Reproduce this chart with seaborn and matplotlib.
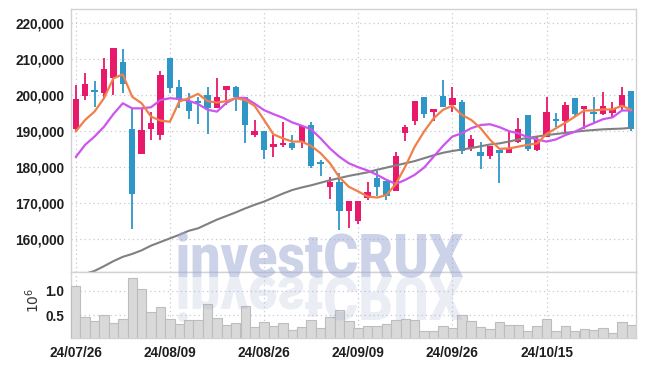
import numpy as np
import pandas as pd
import matplotlib
matplotlib.use("Agg")
import matplotlib.pyplot as plt
import seaborn as sns
from matplotlib.textpath import TextPath
from matplotlib.patches import PathPatch
from matplotlib.font_manager import FontProperties
from matplotlib.transforms import Affine2D, IdentityTransform

# ---------------- data ----------------
dates = ["24/07/26", "24/07/29", "24/07/30", "24/07/31", "24/08/01", "24/08/02", "24/08/05", "24/08/06", "24/08/07", "24/08/08",
         "24/08/09", "24/08/12", "24/08/13", "24/08/14", "24/08/16", "24/08/19", "24/08/20", "24/08/21", "24/08/22", "24/08/23",
         "24/08/26", "24/08/27", "24/08/28", "24/08/29", "24/08/30", "24/09/02", "24/09/03", "24/09/04", "24/09/05", "24/09/06",
         "24/09/09", "24/09/10", "24/09/11", "24/09/12", "24/09/13", "24/09/19", "24/09/20", "24/09/23", "24/09/24", "24/09/25",
         "24/09/26", "24/09/27", "24/09/30", "24/10/02", "24/10/04", "24/10/07", "24/10/08", "24/10/10", "24/10/11", "24/10/14",
         "24/10/15", "24/10/16", "24/10/17", "24/10/18", "24/10/21", "24/10/22", "24/10/23", "24/10/24", "24/10/25", "24/10/28"]

opens = [190500, 199800, 201000, 200500, 204600, 209000, 190500, 183600, 190700, 189000,
         210200, 202100, 198200, 198000, 200000, 196500, 201500, 202200, 199400, 189000,
         190000, 185500, 186200, 186700, 187000, 191700, 180900, 174600, 175900, 168000,
         165200, 171400, 177000, 176100, 173300, 189400, 192800, 199400, 195400, 199700,
         197100, 198000, 185200, 184100, 183200, 184800, 184000, 186900, 194500, 184800,
         188500, 193200, 192900, 199200, 196100, 195100, 194700, 195100, 196600, 201100]
highs = [202900, 206000, 204000, 210300, 213000, 212700, 196300, 196300, 195400, 206500,
         210200, 204100, 200500, 199500, 202300, 204600, 202500, 202500, 199500, 193100,
         190000, 188900, 192600, 188900, 191700, 192600, 182000, 177200, 178300, 170600,
         170600, 175800, 179000, 176100, 184300, 191600, 198200, 199400, 196000, 204100,
         202100, 198600, 188800, 186900, 185900, 184800, 189900, 193500, 194500, 188500,
         199400, 195100, 198000, 199200, 197000, 199400, 200900, 198100, 202100, 201100]
lows = [190000, 198600, 196800, 199100, 200000, 200500, 162800, 183600, 187600, 187600,
        200500, 196500, 193300, 191900, 189100, 196500, 197200, 195700, 186600, 188500,
        182200, 182800, 185500, 184800, 185300, 179700, 177600, 171100, 162700, 163100,
        164200, 171000, 171900, 171000, 173300, 187200, 191700, 193500, 192900, 196800,
        195400, 183700, 184500, 179400, 182200, 175600, 184000, 186600, 184600, 184600,
        188500, 191100, 189400, 194200, 190500, 192000, 194500, 193500, 195700, 189900]
closes = [198800, 203000, 200800, 207100, 213000, 203000, 172600, 190300, 192200, 205500,
          202000, 198600, 195700, 197700, 196500, 199400, 202400, 199400, 191700, 190000,
          184800, 186400, 186700, 185200, 191400, 180400, 180800, 175900, 168000, 170600,
          170600, 173100, 174400, 172100, 183000, 191000, 198200, 194600, 196000, 196800,
          199100, 184500, 187800, 183200, 185900, 184000, 185000, 190600, 185100, 187900,
          195400, 192800, 197200, 194700, 197000, 194800, 197000, 196000, 200000, 190500]

ma5 = [189900, 193100, 195400, 199100, 204600, 205700, 199500, 197700, 194000, 192900,
       192600, 198200, 199100, 200300, 198300, 197900, 198300, 199100, 198600, 197000,
       193100, 189100, 188000, 187100, 187100, 185900, 183900, 181100, 177200, 174600,
       173300, 171900, 171600, 172300, 175400, 180200, 185700, 189900, 193500, 195900,
       197000, 194500, 193100, 190800, 187600, 185100, 185200, 185700, 186200, 186600,
       189200, 190800, 192300, 194000, 195700, 195700, 196000, 196000, 197000, 195900]
ma20 = [182800, 186200, 188500, 191200, 194700, 197700, 196300, 196300, 196600, 198600,
        199100, 198900, 198400, 197500, 195900, 195400, 197800, 199200, 199200, 197600,
        195800, 194700, 193700, 192400, 191500, 190500, 188000, 185200, 182900, 181100,
        180000, 179100, 177900, 176500, 175400, 176500, 177900, 179900, 182900, 185900,
        188500, 189400, 190800, 191700, 191900, 191100, 190000, 189400, 188300, 187700,
        187100, 187700, 188900, 189800, 191100, 192200, 193300, 193800, 195700, 195700]
ma60 = [149200, 150500, 151300, 152600, 154000, 155200, 156000, 157000, 158300, 159300,
        160300, 161300, 162400, 163100, 164300, 165500, 166500, 167500, 168600, 169600,
        170500, 171600, 172700, 173700, 174400, 175000, 175700, 176400, 177000, 177600,
        178100, 178600, 179300, 179900, 180500, 181100, 181700, 182500, 183300, 184000,
        184500, 184900, 185300, 185800, 186300, 186600, 187100, 187700, 188100, 188500,
        188900, 189200, 189500, 189800, 190100, 190300, 190500, 190600, 190700, 190900]

volume_m = [1.10, 0.45, 0.37, 0.49, 0.33, 0.41, 1.255, 1.03, 0.555, 0.66,
            0.41, 0.31, 0.39, 0.39, 0.72, 0.43, 0.29, 0.33, 0.68, 0.25,
            0.35, 0.27, 0.33, 0.185, 0.25, 0.39, 0.225, 0.45, 0.60, 0.37,
            0.225, 0.27, 0.27, 0.31, 0.39, 0.41, 0.39, 0.165, 0.165, 0.27,
            0.225, 0.49, 0.37, 0.25, 0.205, 0.35, 0.29, 0.29, 0.165, 0.27,
            0.41, 0.165, 0.27, 0.165, 0.205, 0.185, 0.225, 0.125, 0.35, 0.29]

price_ticks = [160000, 170000, 180000, 190000, 200000, 210000, 220000]
volume_ticks = [0.5, 1.0]

# ---------------- style ----------------
RED = "#e8196a"
BLUE = "#2f96c8"
ORANGE = "#f0804a"
PURPLE = "#cc55ee"
GRAY = "#808080"
GRID = "#c6c9dc"
SPINE = "#d2d2d2"

sns.set_theme(style="white")
plt.rcParams["font.family"] = ["Liberation Sans", "DejaVu Sans"]

df = pd.DataFrame({"idx": np.arange(len(dates)), "date": dates, "open": opens, "high": highs,
                   "low": lows, "close": closes, "ma5": ma5, "ma20": ma20, "ma60": ma60,
                   "volume": volume_m})

W, H = 645, 366
fig = plt.figure(figsize=(W / 100, H / 100), dpi=100)
L, R = 71, 636
ax = fig.add_axes([L / W, 1 - 272 / H, (R - L) / W, (272 - 9) / H])
axv = fig.add_axes([L / W, 1 - 337.5 / H, (R - L) / W, (337.5 - 272) / H])

# volume
sns.barplot(data=df, x="idx", y="volume", ax=axv, color="#d9d9d9", width=1.0,
            edgecolor="#bdbdbd", linewidth=0.8, saturation=1, zorder=3)

# candles
up = df["close"] >= df["open"]
cols = np.where(up, RED, BLUE)
ax.vlines(df["idx"], df["low"], df["high"], colors=cols, linewidth=1.3, zorder=3)
body_lo = np.minimum(df["open"], df["close"])
body_h = np.maximum(np.abs(df["close"] - df["open"]), 550)
ax.bar(df["idx"], body_h, bottom=body_lo, width=0.68, color=cols, linewidth=0, zorder=4)

# moving averages
sns.lineplot(data=df, x="idx", y="ma60", ax=ax, color=GRAY, linewidth=1.5, zorder=5)
sns.lineplot(data=df, x="idx", y="ma20", ax=ax, color=PURPLE, linewidth=1.6, zorder=5)
sns.lineplot(data=df, x="idx", y="ma5", ax=ax, color=ORANGE, linewidth=1.6, zorder=6)

xticks = list(range(0, len(dates), 10))
for a in (ax, axv):
    a.set_xlim(-0.5, len(dates) - 0.5)
    a.set_xticks(xticks)
    a.grid(True, linestyle=(0, (1, 2.5)), color=GRID, linewidth=0.9, zorder=0)
    a.set_axisbelow(True)
    a.set_xlabel("")
    a.set_ylabel("")
    for s in a.spines.values():
        s.set_color(SPINE)
        s.set_linewidth(1.0)
    a.tick_params(length=0, pad=5, labelsize=9.8, colors="#1e1e1e")

ax.set_ylim(151000, 223800)
ax.set_yticks(price_ticks)
ax.set_yticklabels([f"{v:,}" for v in price_ticks], fontweight="bold")
ax.set_xticklabels([])

axv.set_ylim(0.037, 1.385)
axv.set_yticks(volume_ticks)
axv.set_yticklabels([f"{v:.1f}" for v in volume_ticks], fontweight="bold")
axv.set_xticklabels([dates[i] for i in xticks], fontweight="bold")
axv.tick_params(axis="x", pad=6)

fig.text(33 / W, 1 - 300 / H, r"$10^6$", rotation=90, ha="center", va="center",
         fontsize=10, color="#333333", family="DejaVu Serif")

# watermark with reflection
fp = FontProperties(family=["Roboto", "DejaVu Sans"], weight="black")
tp = TextPath((0, 0), "investCRUX", size=60, prop=fp)
ext = tp.get_extents()
sx = 285 / ext.width
sy = 45 / ext.ymax
base_y = H - 277
x0 = 178
t_main = Affine2D().translate(-ext.xmin, 0).scale(sx, sy).translate(x0, base_y)
t_refl = Affine2D().translate(-ext.xmin, 0).scale(sx, -sy).translate(x0, base_y)
fig.add_artist(PathPatch(t_main.transform_path(tp), transform=IdentityTransform(),
                         facecolor="#9ba7d1", edgecolor="none", alpha=0.5, zorder=10))
fig.add_artist(PathPatch(t_refl.transform_path(tp), transform=IdentityTransform(),
                         facecolor="#9ba7d1", edgecolor="none", alpha=0.2, zorder=10))

fig.savefig("out.png", dpi=100)
